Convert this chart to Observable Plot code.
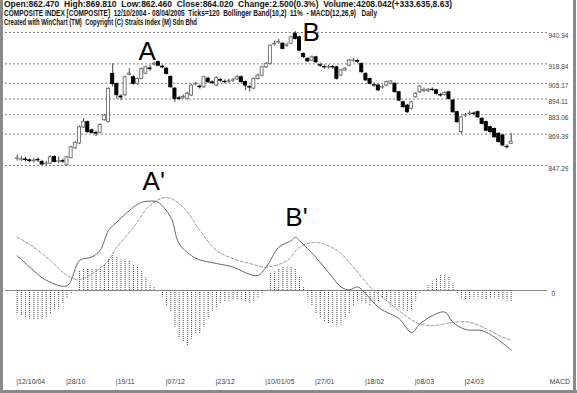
<!DOCTYPE html>
<html><head><meta charset="utf-8">
<script src="https://cdn.jsdelivr.net/npm/d3@7"></script>
<script src="https://cdn.jsdelivr.net/npm/@observablehq/plot@0.6"></script>
<style>
body{margin:0;background:#fff;}
#wrap{position:relative;width:577px;height:393px;overflow:hidden;background:#fff;}
.hdr{position:absolute;left:4px;font:bold 8.5px "Liberation Sans",Arial,sans-serif;white-space:pre;transform-origin:0 0;line-height:8px;color:#111;}
#p1{position:absolute;left:0;top:0;}
#p2{position:absolute;left:0;top:160px;}
.bd{position:absolute;background:#8a8a8a;}
</style></head><body>
<div id="wrap">
<div id="p1"></div><div id="p2"></div>
<div class="hdr" id="h1" style="top:0px"></div>
<div class="hdr" id="h2" style="top:9px"></div>
<div class="hdr" id="h3" style="top:17.5px"></div>
<div class="bd" style="left:0;top:0;width:3px;height:393px"></div>
<div class="bd" style="left:573px;top:0;width:3px;height:393px"></div>
<div class="bd" style="left:0;top:390px;width:577px;height:3px"></div>
</div>
<script>
const headerLines = [
  "Open:862.470  High:869.810  Low:862.460  Close:864.020  Change:2.500(0.3%)  Volume:4208.042(+333.635,8.63)",
  "COMPOSITE INDEX [COMPOSITE]  12/10/2004 - 08/04/2005  Ticks=120  Bollinger Band(10,2)  11%  - MACD(12,26,9)   Daily",
  "Created with WinChart (TM)  Copyright (C) Straits Index (M) Sdn Bhd"
];
const headerWidths = [448, 373, 193];

const priceLevels = [940.94, 918.84, 905.17, 894.11, 883.06, 869.39, 847.29];

const open = [852.0,851.3,851.5,850.9,850.4,851.2,849.8,848.4,848.6,853.2,
850.0,850.3,847.5,852.5,859.4,862.8,874.0,877.8,872.0,870.2,
870.3,879.2,878.0,911.8,904.6,895.8,896.8,911.2,909.4,904.8,
908.2,912.0,915.6,918.4,920.0,916.8,915.4,909.6,901.4,894.6,
895.0,894.2,896.6,904.4,902.8,902.4,908.4,905.8,903.6,907.4,
906.2,906.2,907.0,907.8,909.4,906.0,902.6,901.4,908.2,910.6,
916.4,918.8,932.6,933.8,933.0,931.6,933.0,940.0,937.6,925.8,
922.4,921.2,923.4,917.9,916.6,916.4,916.6,916.4,910.6,914.2,
917.6,921.0,920.8,918.8,911.8,908.2,903.8,903.6,902.2,903.6,
904.8,904.8,898.8,891.8,889.4,887.2,895.4,898.8,899.6,899.6,
900.6,900.2,896.8,897.0,898.8,893.0,884.8,870.8,882.4,883.6,
883.8,884.8,880.2,877.8,874.2,873.0,869.6,868.4,860.4,862.47];
const close = [852.3,851.6,851.2,850.4,850.7,850.9,848.0,848.6,853.0,849.8,
850.3,850.0,853.0,860.0,863.2,874.2,877.8,870.8,870.3,869.8,
875.8,882.4,901.2,904.6,896.8,895.2,909.4,912.0,904.8,908.2,
915.2,916.4,915.2,918.9,917.6,916.4,911.8,902.4,894.2,894.2,
895.6,897.8,903.6,904.8,902.4,909.4,906.0,905.4,908.8,907.0,
906.0,906.6,907.2,909.4,906.0,903.6,902.2,908.2,910.6,916.4,
918.8,931.6,933.0,934.2,929.4,931.8,937.6,936.4,928.2,923.6,
920.6,923.4,920.0,917.6,916.4,916.6,916.4,908.4,914.2,915.4,
921.2,921.2,920.4,913.0,907.2,904.8,903.6,900.2,902.4,906.0,
906.4,899.0,893.0,888.4,884.8,891.8,897.8,902.8,900.4,900.6,
900.4,897.8,896.6,898.2,894.2,884.8,877.8,881.2,882.6,883.8,
883.6,881.2,876.6,871.8,870.8,867.2,863.8,861.4,860.2,864.02];
const high = [854.6,853.6,853.0,852.0,852.2,852.8,851.0,850.2,854.0,854.2,
853.4,852.0,853.8,860.8,864.0,875.2,880.4,878.6,873.0,871.4,
876.6,883.2,902.0,919.0,905.4,897.2,910.2,915.4,910.4,909.0,
916.0,917.2,917.8,920.0,920.8,918.0,916.2,910.6,902.2,896.0,
897.0,898.8,904.4,906.0,904.0,910.2,909.4,907.0,909.6,908.6,
907.6,908.0,908.6,910.6,910.4,906.8,903.6,909.0,911.6,917.2,
919.8,932.4,935.0,936.0,934.0,933.4,938.4,941.6,938.4,926.6,
923.2,924.4,924.2,919.4,918.2,918.0,917.8,917.2,915.0,916.4,
922.0,922.6,922.0,919.6,912.6,909.0,905.2,904.4,903.8,906.8,
907.2,905.6,899.6,892.6,890.2,892.6,898.6,903.6,901.8,901.6,
902.0,901.0,898.0,899.2,899.6,893.8,885.6,882.0,884.0,885.4,
885.0,885.8,881.0,878.6,875.0,873.8,870.4,869.2,862.0,869.81];
const low = [850.5,850.1,849.8,849.2,849.0,849.5,847.3,846.9,848.0,849.0,
848.6,848.8,847.0,852.0,858.6,862.0,873.4,870.0,869.4,867.6,
869.6,878.5,877.2,902.6,894.0,893.0,895.8,910.4,903.8,903.6,
907.6,911.2,913.6,917.4,916.8,915.4,911.0,901.6,891.8,892.8,
894.0,893.4,895.8,903.4,901.0,901.6,905.0,904.2,902.8,905.8,
904.8,905.2,905.8,907.0,905.0,900.0,899.0,900.6,907.4,909.8,
915.6,918.0,931.4,932.8,928.6,930.4,932.2,935.6,927.4,922.6,
919.8,920.4,919.2,916.4,915.0,915.2,915.0,907.4,909.8,913.4,
916.8,920.0,919.2,912.2,906.4,904.0,902.4,899.4,901.0,902.8,
904.0,898.2,892.2,887.6,884.0,886.4,894.6,898.0,898.6,898.8,
899.2,897.0,895.4,896.2,893.4,884.0,877.0,869.2,881.2,882.4,
882.4,880.4,875.8,871.0,870.0,866.4,863.0,860.6,858.8,862.46];

// MACD line and signal line, read at bar indices
const macdIdx = [0,4,7,12,15,18,20,22,24,27,28,30,33,34,37,39,42,44,48,52,56,58,60,63,66,67,68,72,75,78,80,82,84,87,89,92,95,97,100,103,105,108,112,115,119];
const macdVal = [5.8,3.3,1.7,0.8,5.0,5.6,6.7,10.0,11.4,13.3,13.9,14.7,14.9,14.7,12.2,7.8,5.8,5.1,4.5,3.9,2.7,2.5,3.9,7.2,8.3,8.9,8.3,5.5,3.0,0.6,0.1,0.6,-0.6,-2.8,-3.6,-4.7,-7.0,-5.6,-4.2,-3.6,-5.3,-6.5,-6.7,-7.8,-9.9];
const sigIdx = [0,4,8,12,15,18,22,24,28,32,36,40,44,48,52,56,60,65,68,72,77,81,85,89,93,97,101,105,109,113,117,119];
const sigVal = [8.9,7.2,5.0,2.5,1.8,2.8,5.0,7.2,10.5,14.2,15.5,13.9,10.0,6.7,5.3,4.5,3.9,5.0,7.2,8.0,6.7,3.9,0.6,-1.7,-3.9,-5.6,-5.8,-5.3,-5.3,-6.4,-7.8,-8.3];
const histVal = [-3.9,-4.2,-4.5,-5.0,-5.0,-5.0,-5.0,-4.5,-3.9,-3.3,
-3.1,-2.2,-1.4,-0.6,0,3.3,3.6,3.6,3.5,3.5,
3.6,4.2,5.3,6.1,5.6,5.1,5.1,5.0,4.3,3.9,
3.3,2.2,1.1,0.7,0,-1.1,-2.5,-3.6,-6.1,-8.1,
-8.6,-9.2,-8.1,-7.2,-7.2,-6.1,-4.5,-3.6,-2.8,-2.2,
-2.0,-2.0,-1.7,-1.7,-1.7,-2.0,-2.2,-2.0,-1.4,-0.6,
0,2.8,3.1,3.6,3.9,3.8,3.9,3.6,2.2,0.6,
-1.4,-2.5,-3.9,-4.5,-5.3,-5.6,-5.6,-6.1,-5.8,-4.7,
-3.9,-2.5,-2.0,-2.0,-2.2,-2.5,-2.2,-2.0,-1.4,-2.0,
-2.8,-2.8,-3.1,-3.3,-3.6,-3.3,-2.0,-0.6,0,0.8,
1.4,2.0,2.5,2.5,2.2,1.1,-0.6,-1.4,-1.7,-1.4,
-1.4,-1.4,-1.4,-1.7,-1.4,-1.4,-1.4,-1.7,-2.0,-2.0];

const tickIdx = [0,12,24,36,48,60,72,84,96,108];
const tickLabels = ["12/10/04","28/10","19/11","07/12","23/12","10/01/05","27/01","18/02","08/03","24/03"];

const topNotes = [{label:"A", i:29.2, v:921.9},{label:"B", i:68.7, v:935.3}];
const macdNotes = [{label:"A'", i:30.2, v:16.7},{label:"B'", i:64.6, v:10.8}];

// header
headerLines.forEach((t,k)=>{
  const el = document.getElementById("h"+(k+1));
  el.textContent = t;
  const w = el.getBoundingClientRect().width;
  el.style.transform = `scaleX(${headerWidths[k]/w})`;
});

const candles = open.map((o,i)=>({i, o, c: close[i], h: high[i], l: low[i]}));
const macd = macdIdx.map((i,k)=>({i, v: macdVal[k]}));
const signal = sigIdx.map((i,k)=>({i, v: sigVal[k]}));
const hist = histVal.map((v,i)=>({i, v}));

const font = "'Liberation Sans', Arial, sans-serif";

const p1 = Plot.plot({
  width: 577, height: 175,
  marginLeft: 5, marginRight: 30, marginTop: 0, marginBottom: 0,
  style: {background: "transparent", fontFamily: font},
  x: {domain: [0,119], range: [16.7,510.7], axis: null, label: null},
  y: {domain: [847.29, 940.94], range: [165,32], label: null},
  color: {type: "identity"},
  marks: [
    Plot.ruleY(priceLevels, {stroke: "#8a7e8a", strokeDasharray: "2,2"}),
    Plot.axisY(priceLevels, {anchor: "right", tickSize: 0, tickPadding: 1, tickFormat: d => d.toFixed(2), fontSize: 6.5, fill: "#444", dy: 3}),
    Plot.ruleX(candles, {x: "i", y1: "l", y2: "h", stroke: "#444"}),
    Plot.rect(candles, {x1: d => d.i - 0.36, x2: d => d.i + 0.36, y1: "o", y2: "c",
      fill: d => d.c > d.o ? "white" : "black", stroke: d => d.c > d.o ? "#777" : "black", strokeWidth: 1}),
    Plot.text(topNotes, {x: "i", y: "v", text: "label", fontSize: 26, textAnchor: "start", lineAnchor: "bottom", fill: "black"})
  ]
});
document.getElementById("p1").append(p1);

// bottom panel: zero line at page y 290 -> local y 130 (panel starts at page y 160)
const p2 = Plot.plot({
  width: 577, height: 233,
  marginLeft: 5, marginRight: 30, marginTop: 0, marginBottom: 17,
  style: {background: "transparent", fontFamily: font},
  x: {domain: [0,119], range: [16.7,510.7], label: null},
  y: {domain: [-10,15], range: [190,40], label: null},
  marks: [
    Plot.ruleY([0], {stroke: "#888"}),
    Plot.ruleX(hist, {x: "i", y1: 0, y2: "v", stroke: "#555", strokeDasharray: "1,1"}),
    Plot.line(signal, {x: "i", y: "v", stroke: "#999", strokeWidth: 1, strokeDasharray: "3,2", curve: "catmull-rom"}),
    Plot.line(macd, {x: "i", y: "v", stroke: "#666", strokeWidth: 1, curve: "catmull-rom"}),
    Plot.axisY([0], {anchor: "right", tickSize: 0, tickPadding: 4, fontSize: 6.5, fill: "#444", dy: 3}),
    Plot.axisX(tickIdx, {anchor: "bottom", tickSize: 0, tickPadding: 3, fontSize: 7, fill: "#444",
      tickFormat: d => "|" + tickLabels[tickIdx.indexOf(d)], textAnchor: "start", dx: -1}),
    Plot.text(["MACD"], {frameAnchor: "bottom-right", textAnchor: "start", lineAnchor: "top", dx: 2, dy: 3, fontSize: 7, fill: "#444"}),
    Plot.text(macdNotes, {x: "i", y: "v", text: "label", fontSize: 26, textAnchor: "start", lineAnchor: "bottom", fill: "black"})
  ]
});
document.getElementById("p2").append(p2);
</script>
</body></html>
